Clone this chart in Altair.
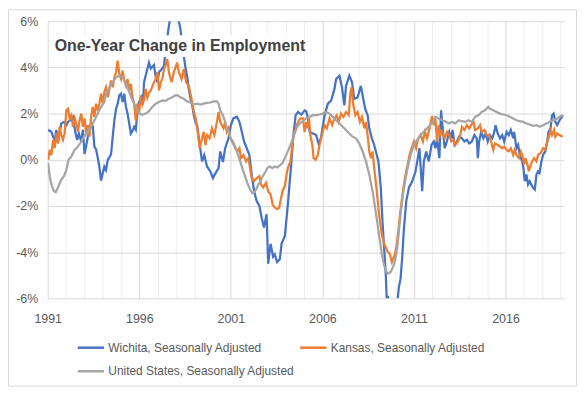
import altair as alt
import pandas as pd

# ---------------- data ----------------
wichita_t = [1991.02,1991.2,1991.29,1991.38,1991.47,1991.56,1991.65,1991.74,1991.89,1992.02,1992.11,1992.25,1992.38,1992.5,1992.61,1992.7,1992.83,1992.92,1993.01,1993.1,1993.19,1993.28,1993.37,1993.46,1993.55,1993.64,1993.73,1993.82,1993.91,1994.0,1994.09,1994.18,1994.28,1994.37,1994.46,1994.55,1994.64,1994.73,1994.82,1994.91,1995.0,1995.09,1995.18,1995.27,1995.36,1995.45,1995.54,1995.63,1995.72,1995.81,1995.9,1995.99,1996.12,1996.2,1996.26,1996.4,1996.53,1996.63,1996.8,1996.9,1996.99,1997.08,1997.2,1997.35,1997.44,1997.53,1997.62,1997.71,1997.8,1997.95,1998.05,1998.16,1998.25,1998.34,1998.43,1998.52,1998.61,1998.7,1998.8,1998.88,1998.98,1999.08,1999.16,1999.3,1999.43,1999.55,1999.7,1999.88,2000.02,2000.15,2000.33,2000.42,2000.57,2000.69,2000.87,2001.0,2001.14,2001.33,2001.47,2001.6,2001.72,2001.87,2002.01,2002.14,2002.27,2002.41,2002.56,2002.68,2002.81,2002.95,2003.04,2003.17,2003.31,2003.4,2003.53,2003.68,2003.77,2003.95,2004.13,2004.22,2004.3,2004.4,2004.54,2004.67,2004.85,2005.03,2005.12,2005.21,2005.3,2005.48,2005.66,2005.81,2005.93,2006.12,2006.3,2006.48,2006.66,2006.75,2006.93,2007.07,2007.2,2007.29,2007.47,2007.62,2007.74,2007.92,2008.1,2008.23,2008.34,2008.47,2008.56,2008.7,2008.83,2008.92,2009.06,2009.19,2009.28,2009.37,2009.46,2009.52,2009.58,2009.65,2009.8,2009.95,2010.1,2010.18,2010.27,2010.36,2010.45,2010.58,2010.73,2010.91,2011.09,2011.18,2011.3,2011.45,2011.54,2011.67,2011.81,2011.96,2012.08,2012.17,2012.26,2012.39,2012.48,2012.57,2012.68,2012.8,2012.93,2013.04,2013.11,2013.22,2013.35,2013.47,2013.62,2013.76,2013.89,2014.02,2014.16,2014.3,2014.43,2014.49,2014.56,2014.67,2014.79,2014.92,2015.03,2015.15,2015.28,2015.39,2015.46,2015.57,2015.7,2015.82,2015.93,2016.06,2016.18,2016.29,2016.42,2016.47,2016.6,2016.69,2016.78,2016.91,2016.98,2017.05,2017.14,2017.23,2017.32,2017.41,2017.5,2017.6,2017.69,2017.78,2017.86,2017.96,2018.05,2018.17,2018.28,2018.35,2018.46,2018.54,2018.63,2018.72,2018.82,2018.95,2019.08,2019.13]
wichita_v = [1.29,1.21,1.0,0.86,1.29,0.75,1.2,1.57,1.64,1.5,1.64,1.71,1.85,1.21,0.86,1.14,0.79,1.3,0.25,0.6,1.0,1.2,1.57,1.45,0.57,0.45,0.1,-0.3,-0.9,-0.6,-0.3,-0.45,0.0,0.1,0.25,1.0,1.71,2.2,2.43,2.79,2.86,2.5,2.86,2.29,2.0,1.57,1.14,1.25,1.43,1.3,2.14,2.5,2.71,2.4,3.36,3.8,4.21,3.95,4.1,3.6,3.36,3.8,3.9,4.07,4.79,5.3,5.8,6.3,6.8,7.0,6.6,6.0,5.64,5.0,4.5,4.0,3.64,3.07,2.64,2.4,1.93,1.6,1.5,0.64,-0.07,0.2,-0.29,-0.5,-0.79,-0.6,-0.36,0.36,-0.1,0.5,0.93,1.5,1.79,1.86,1.64,1.21,0.79,0.5,0.21,-0.64,-1.36,-1.79,-2.0,-2.5,-2.93,-2.36,-4.5,-3.64,-4.2,-4.1,-4.43,-4.3,-3.64,-3.3,-1.8,-0.9,-0.2,0.93,1.93,2.07,1.95,2.14,2.1,1.8,1.21,1.14,1.07,0.64,1.0,1.93,2.43,2.57,3.07,3.5,3.64,3.14,2.36,3.2,3.64,3.36,2.64,2.7,3.2,2.64,2.2,1.93,1.36,0.93,0.64,0.36,-0.07,-1.2,-2.64,-3.8,-4.93,-6.2,-5.9,-6.3,-6.7,-6.5,-6.1,-5.5,-5.15,-4.2,-3.0,-1.79,-1.2,-0.93,-0.5,-0.07,0.5,-1.36,-0.07,0.36,-0.07,0.64,0.79,0.5,0.9,0.07,2.14,1.36,0.5,0.8,1.21,0.93,1.29,0.64,0.79,1.0,0.93,0.79,0.86,0.71,0.79,1.07,0.93,0.07,0.79,1.21,0.93,1.14,0.79,1.07,0.93,1.21,1.5,1.14,0.93,1.07,0.79,1.21,1.07,1.29,0.93,1.21,0.5,0.64,0.21,-0.07,-0.36,-0.93,-0.64,-1.07,-0.93,-1.07,-1.21,-1.29,-0.64,-0.5,-0.57,-0.07,0.21,0.36,0.79,1.21,1.36,1.93,2.0,1.64,1.5,1.71,1.86,1.93]

kansas_t = [1991.02,1991.11,1991.2,1991.29,1991.38,1991.47,1991.56,1991.65,1991.74,1991.83,1991.92,1992.02,1992.11,1992.2,1992.29,1992.38,1992.47,1992.56,1992.65,1992.74,1992.83,1992.92,1993.01,1993.1,1993.19,1993.28,1993.37,1993.46,1993.55,1993.64,1993.73,1993.82,1993.91,1994.0,1994.09,1994.18,1994.28,1994.37,1994.46,1994.55,1994.64,1994.73,1994.82,1994.91,1995.0,1995.09,1995.18,1995.27,1995.36,1995.45,1995.54,1995.63,1995.72,1995.81,1995.9,1995.99,1996.08,1996.17,1996.26,1996.35,1996.44,1996.53,1996.63,1996.72,1996.81,1996.9,1996.99,1997.08,1997.17,1997.26,1997.35,1997.44,1997.53,1997.62,1997.76,1997.89,1998.07,1998.16,1998.31,1998.43,1998.56,1998.7,1998.85,1998.98,1999.08,1999.19,1999.3,1999.43,1999.52,1999.61,1999.7,1999.84,1999.97,2000.1,2000.24,2000.33,2000.42,2000.51,2000.6,2000.69,2000.78,2000.87,2000.96,2001.11,2001.24,2001.36,2001.47,2001.56,2001.69,2001.83,2001.96,2002.05,2002.14,2002.27,2002.41,2002.56,2002.65,2002.77,2002.92,2003.04,2003.17,2003.28,2003.4,2003.53,2003.64,2003.71,2003.82,2003.95,2004.07,2004.18,2004.26,2004.36,2004.44,2004.54,2004.67,2004.8,2004.94,2005.03,2005.12,2005.2,2005.27,2005.34,2005.45,2005.52,2005.63,2005.75,2005.84,2005.93,2006.02,2006.12,2006.24,2006.39,2006.53,2006.66,2006.78,2006.89,2007.02,2007.15,2007.29,2007.44,2007.53,2007.6,2007.69,2007.8,2007.92,2008.05,2008.16,2008.29,2008.38,2008.47,2008.56,2008.65,2008.74,2008.83,2008.95,2009.06,2009.14,2009.24,2009.37,2009.46,2009.57,2009.68,2009.79,2009.86,2009.97,2010.04,2010.15,2010.22,2010.33,2010.45,2010.58,2010.69,2010.76,2010.87,2011.0,2011.12,2011.23,2011.36,2011.49,2011.6,2011.72,2011.85,2011.99,2012.08,2012.17,2012.26,2012.35,2012.44,2012.53,2012.68,2012.8,2012.93,2013.04,2013.16,2013.26,2013.4,2013.53,2013.62,2013.76,2013.89,2014.02,2014.12,2014.25,2014.34,2014.49,2014.61,2014.7,2014.85,2014.97,2015.1,2015.21,2015.33,2015.42,2015.57,2015.7,2015.82,2015.93,2016.06,2016.18,2016.29,2016.42,2016.51,2016.6,2016.73,2016.84,2016.91,2017.02,2017.09,2017.2,2017.27,2017.38,2017.45,2017.56,2017.69,2017.78,2017.92,2018.05,2018.17,2018.28,2018.35,2018.46,2018.54,2018.65,2018.72,2018.82,2018.95,2019.13]
kansas_v = [0.0,0.43,0.2,0.86,0.5,1.14,0.7,1.43,1.07,0.86,1.14,2.14,2.21,1.79,1.93,1.43,1.79,1.57,1.21,1.71,2.0,1.43,1.79,1.14,1.5,1.0,1.86,2.29,1.86,2.43,2.14,2.43,2.86,2.43,2.93,3.14,2.71,3.07,3.43,3.14,3.57,3.79,4.29,3.71,3.5,3.86,3.43,3.21,3.5,3.0,3.29,2.71,2.43,1.7,2.43,2.0,2.79,2.4,2.6,3.07,2.7,2.9,3.0,3.2,3.36,3.5,3.79,3.0,3.36,3.5,3.93,4.1,4.36,3.79,3.36,3.8,4.21,3.79,3.5,3.93,3.36,3.21,2.64,2.07,1.8,1.21,0.5,0.93,1.21,0.64,1.07,0.93,1.36,1.07,1.64,2.07,1.64,1.5,1.36,1.64,1.21,1.36,0.93,0.79,0.5,0.36,0.5,0.07,0.21,-0.07,0.07,-0.36,-0.79,-0.93,-0.79,-0.71,-1.07,-1.2,-1.0,-1.36,-1.5,-1.93,-2.07,-2.14,-2.07,-1.79,-1.36,-1.14,-0.5,-0.21,-0.07,0.64,1.07,1.36,1.64,1.79,1.79,1.2,1.64,1.36,1.79,1.07,0.64,0.07,0.0,0.21,0.64,0.93,1.21,1.5,1.36,1.79,1.5,1.79,1.93,1.64,2.0,1.86,2.07,1.93,2.93,3.14,2.36,1.93,2.07,1.64,1.86,1.36,1.64,1.07,0.36,0.07,0.36,-0.36,-1.21,-2.07,-2.64,-3.2,-3.64,-3.79,-4.0,-4.07,-4.43,-4.3,-4.07,-3.79,-3.07,-2.5,-1.79,-1.07,-0.5,-0.07,0.21,0.5,0.79,0.5,0.93,1.07,0.79,1.21,0.93,1.36,1.9,1.5,1.79,0.79,1.5,1.07,1.21,0.93,1.21,1.07,0.79,0.86,0.64,0.79,1.07,1.43,1.29,1.5,1.36,1.5,1.64,1.29,1.36,1.5,1.21,1.29,1.07,1.07,0.79,0.43,0.71,0.64,0.57,0.5,0.57,0.43,0.36,0.5,0.21,0.43,0.21,0.07,0.36,0.21,-0.21,0.07,-0.21,-0.5,-0.21,-0.07,0.07,-0.07,0.21,0.29,0.5,0.43,0.79,0.93,1.29,1.07,1.29,1.0,1.14,1.07,1.0]

us_t = [1991.02,1991.11,1991.2,1991.33,1991.44,1991.56,1991.74,1991.89,1992.02,1992.14,1992.29,1992.47,1992.65,1992.83,1992.98,1993.19,1993.37,1993.55,1993.73,1993.91,1994.09,1994.18,1994.37,1994.55,1994.73,1994.91,1995.09,1995.27,1995.45,1995.63,1995.81,1995.99,1996.17,1996.35,1996.53,1996.71,1996.9,1997.08,1997.26,1997.44,1997.62,1997.8,1997.98,1998.07,1998.25,1998.43,1998.61,1998.79,1998.97,1999.16,1999.34,1999.52,1999.7,1999.88,2000.06,2000.24,2000.33,2000.42,2000.57,2000.69,2000.82,2000.96,2001.11,2001.24,2001.36,2001.51,2001.65,2001.78,2001.9,2002.05,2002.18,2002.27,2002.38,2002.5,2002.63,2002.74,2002.86,2002.99,2003.13,2003.28,2003.4,2003.53,2003.68,2003.82,2003.95,2004.07,2004.22,2004.36,2004.49,2004.62,2004.76,2004.94,2005.12,2005.3,2005.48,2005.66,2005.84,2006.02,2006.21,2006.39,2006.57,2006.75,2006.93,2007.11,2007.29,2007.47,2007.65,2007.83,2008.01,2008.2,2008.38,2008.56,2008.74,2008.88,2009.01,2009.14,2009.24,2009.37,2009.5,2009.61,2009.73,2009.86,2009.97,2010.09,2010.18,2010.27,2010.4,2010.55,2010.69,2010.82,2011.0,2011.18,2011.36,2011.54,2011.72,2011.9,2012.08,2012.17,2012.35,2012.53,2012.71,2012.89,2013.08,2013.26,2013.44,2013.62,2013.8,2013.98,2014.16,2014.34,2014.52,2014.7,2014.88,2015.06,2015.15,2015.33,2015.51,2015.7,2015.88,2016.06,2016.24,2016.42,2016.6,2016.78,2016.96,2017.14,2017.32,2017.5,2017.69,2017.86,2018.05,2018.23,2018.41,2018.59,2018.77,2018.95,2019.13]
us_v = [-0.14,-0.71,-1.07,-1.35,-1.4,-1.2,-0.86,-0.71,-0.43,0.0,0.14,0.43,0.57,0.79,1.0,1.21,1.43,1.71,2.0,2.29,2.5,2.86,3.14,3.36,3.57,3.64,3.57,3.29,2.93,2.57,2.3,2.0,1.95,2.0,2.1,2.29,2.43,2.5,2.57,2.55,2.64,2.71,2.79,2.8,2.71,2.64,2.53,2.5,2.39,2.43,2.39,2.43,2.46,2.48,2.53,2.53,2.43,2.14,1.93,1.64,1.29,1.0,0.71,0.57,0.29,-0.07,-0.43,-0.71,-1.0,-1.29,-1.45,-1.4,-1.29,-1.07,-0.93,-0.71,-0.57,-0.36,-0.29,-0.36,-0.29,-0.33,-0.24,-0.14,0.07,0.29,0.57,0.86,1.14,1.43,1.57,1.68,1.8,1.86,1.93,1.93,1.96,2.0,2.07,2.0,1.86,1.71,1.57,1.43,1.29,1.14,1.0,0.93,0.71,0.36,-0.07,-0.64,-1.36,-2.07,-2.79,-3.5,-4.07,-4.57,-4.86,-4.93,-4.86,-4.64,-4.36,-3.79,-3.07,-2.36,-1.5,-0.79,-0.21,0.21,0.64,0.86,1.07,1.21,1.36,1.5,1.7,1.86,1.79,1.71,1.67,1.57,1.64,1.57,1.71,1.67,1.64,1.71,1.64,1.86,1.93,2.07,2.14,2.29,2.21,2.14,2.07,2.0,1.96,1.93,1.86,1.79,1.71,1.67,1.64,1.57,1.53,1.47,1.5,1.43,1.5,1.57,1.64,1.71,1.76,1.86,1.93]

series_names = ["Wichita, Seasonally Adjusted", "Kansas, Seasonally Adjusted", "United States, Seasonally Adjusted"]
series_colors = ["#4472C4", "#ED7D31", "#A5A5A5"]
# legend is laid out column by column: Wichita / United States in column 1, Kansas in column 2
legend_order = [series_names[0], series_names[2], series_names[1]]
legend_colors = [series_colors[0], series_colors[2], series_colors[1]]
title_text = "One-Year Change in Employment"
year_ticks = list(range(1991, 2020))
pct_ticks = [-6, -4, -2, 0, 2, 4, 6]

rows = []
for i, (name, ts, vs) in enumerate(zip(series_names, [wichita_t, kansas_t, us_t], [wichita_v, kansas_v, us_v])):
    for t, v in zip(ts, vs):
        rows.append({"series": name, "t": t, "v": v, "z": i})
df = pd.DataFrame(rows)

FONT = "Liberation Sans, Arial, sans-serif"
TXT = "#595959"

x_enc = alt.X("t:Q",
              scale=alt.Scale(domain=[1991, 2019.2], nice=False, zero=False),
              axis=alt.Axis(values=year_ticks, title=None, domain=False, ticks=False,
                            labelExpr="(datum.value - 1991) % 5 == 0 ? '' + datum.value : ''",
                            labelOverlap=False, labelFlush=False, labelPadding=14,
                            labelFont=FONT, labelFontSize=12.5, labelColor=TXT,
                            grid=True,
                            gridColor={"condition": {"test": "(datum.value - 1991) % 5 == 0", "value": "#d9d9d9"}, "value": "#efefef"},
                            gridWidth=1))
y_enc = alt.Y("v:Q",
              scale=alt.Scale(domain=[-6, 6], nice=False),
              axis=alt.Axis(values=pct_ticks, title=None, domain=False, ticks=False,
                            labelExpr="datum.value + '%'", labelPadding=10,
                            labelFont=FONT, labelFontSize=12.5, labelColor=TXT,
                            grid=True, gridColor="#d9d9d9", gridWidth=1))

lines = alt.Chart(df).mark_line(strokeWidth=2.25, clip=True).encode(
    x=x_enc,
    y=y_enc,
    color=alt.Color("series:N",
                    scale=alt.Scale(domain=legend_order, range=legend_colors),
                    legend=alt.Legend(title=None, orient="none", legendX=29, legendY=314,
                                      columns=2, columnPadding=0, rowPadding=3,
                                      symbolType="stroke", symbolSize=700, symbolStrokeWidth=2.5,
                                      labelFont=FONT, labelFontSize=12, labelColor=TXT,
                                      labelOffset=3, labelLimit=400)),
    order=alt.Order("t:Q"),
    detail="z:O",
)

title_df = pd.DataFrame({"label": [title_text]})
title_bg = alt.Chart(title_df).mark_rect(fill="white").encode(
    x=alt.value(5), x2=alt.value(255), y=alt.value(14), y2=alt.value(36))
title = alt.Chart(title_df).mark_text(
    align="left", baseline="alphabetic", font=FONT, fontSize=16, fontWeight="bold", color="#404040"
).encode(text="label:N", x=alt.value(7), y=alt.value(30))

frame = alt.Chart(title_df).mark_rect(fill=None, stroke="#d9d9d9", strokeWidth=1).encode(
    x=alt.value(-39.5), x2=alt.value(532.5), y=alt.value(-11.5), y2=alt.value(367.5))

chart = alt.layer(frame, lines, title_bg, title).properties(
    width=520, height=279,
    padding={"left": 40, "top": 12, "right": 14, "bottom": 90},
    autosize=alt.AutoSizeParams(type="none"),
    background="white",
).configure_view(stroke=None)

chart.save("out.html", embed_options={"renderer": "svg", "actions": False})
